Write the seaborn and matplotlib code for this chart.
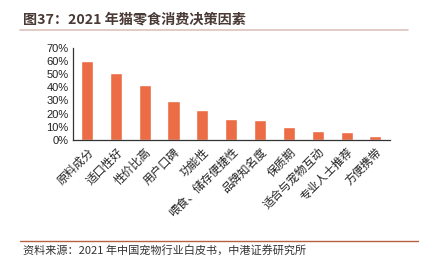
import matplotlib
matplotlib.use("Agg")
import matplotlib.pyplot as plt
import seaborn as sns
import pandas as pd
from matplotlib.lines import Line2D
from matplotlib.ticker import FixedLocator, PercentFormatter

categories = ["原料成分", "适口性好", "性价比高", "用户口碑", "功能性", "喂食、储存便捷性",
              "品牌知名度", "保质期", "适合与宠物互动", "专业人士推荐", "方便携带"]
values = [0.60, 0.51, 0.42, 0.30, 0.23, 0.16, 0.15, 0.10, 0.07, 0.06, 0.03]
yticks = [0, 0.1, 0.2, 0.3, 0.4, 0.5, 0.6, 0.7]

title = "图37：2021 年猫零食消费决策因素"
source = "资料来源：2021 年中国宠物行业白皮书，中港证券研究所"

sns.set_style("white")
plt.rcParams['font.family'] = ['Noto Sans CJK SC', 'DejaVu Sans']

df = pd.DataFrame({"cat": categories, "val": values})

fig = plt.figure(figsize=(4.27, 2.68), dpi=100)
ax = fig.add_axes([0.170, 0.478, 0.743, 0.343])
sns.barplot(data=df, x="cat", y="val", color="#EC6C45", width=0.42, ax=ax, saturation=1)

ax.set_xlim(-0.5, len(categories) - 0.5)
ax.set_ylim(0, 0.7)
ax.set_yticks(yticks)
ax.yaxis.set_major_formatter(PercentFormatter(1.0, decimals=0))
for lab in ax.get_yticklabels():
    lab.set_fontfamily(['Liberation Sans', 'DejaVu Sans'])
    lab.set_fontsize(8)
ax.tick_params(axis='y', length=0, pad=3, colors='#222222')
ax.set_xlabel("")
ax.set_ylabel("")
ax.set_xticks(range(len(categories)))
ax.set_xticklabels(categories, rotation=45, ha='right', rotation_mode='anchor',
                   fontsize=8.3, color='#222222')
ax.tick_params(axis='x', length=0, pad=4)
ax.xaxis.set_minor_locator(FixedLocator([i - 0.5 for i in range(len(categories) + 1)]))
ax.tick_params(axis='x', which='minor', length=3, width=0.8, color='#333333', direction='out')

for s in ["top", "right"]:
    ax.spines[s].set_visible(False)
for s in ["left", "bottom"]:
    ax.spines[s].set_color('#333333')
    ax.spines[s].set_linewidth(0.9)

fig.text(0.054, 0.928, title, fontsize=10.2, fontweight='bold', color='#4A3A36', va='center')
fig.add_artist(Line2D([0.047, 0.955], [0.888, 0.888], color='#DCC3BB', lw=1.2, transform=fig.transFigure))
fig.add_artist(Line2D([0.047, 0.978], [0.100, 0.100], color='#B9603E', lw=1.0, transform=fig.transFigure))
fig.text(0.054, 0.067, source, fontsize=8, color='#333333', va='center', style='italic')

fig.savefig("out.png", dpi=100)
